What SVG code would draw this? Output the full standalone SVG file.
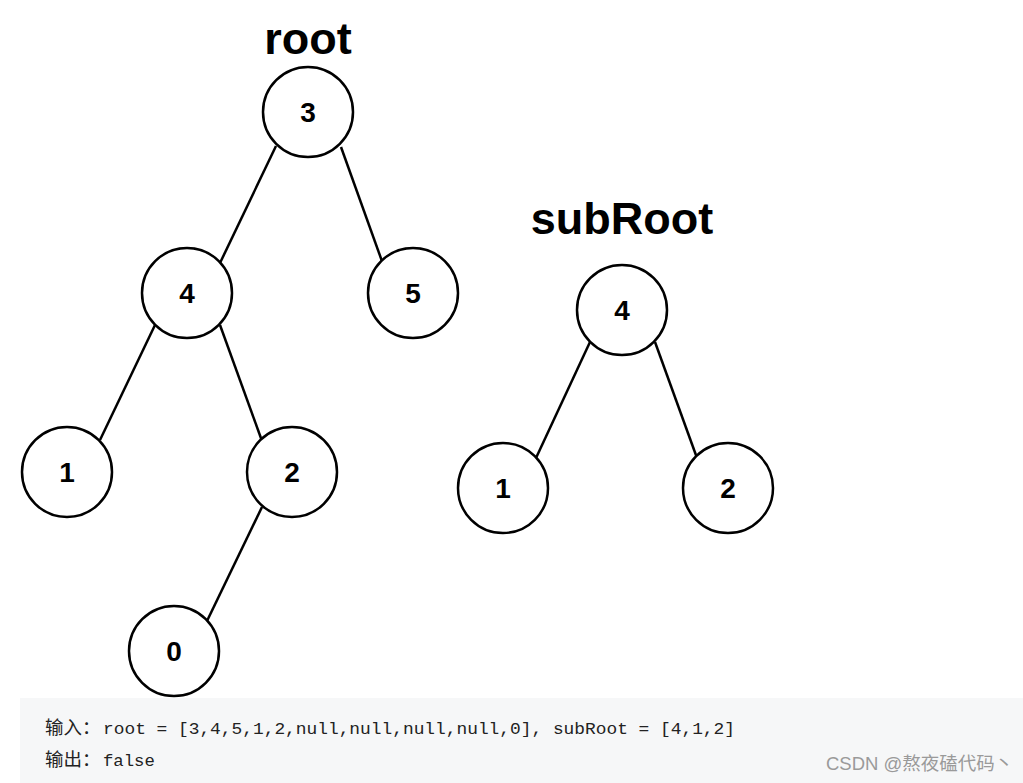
<svg xmlns="http://www.w3.org/2000/svg" width="1023" height="783" viewBox="0 0 1023 783">
<style>
.n circle{fill:#fff;stroke:#000;stroke-width:2.5}
.n text{font-family:"Liberation Sans",Arial,sans-serif;font-weight:bold;font-size:28px;text-anchor:middle;fill:#000}
.lbl{font-family:"Liberation Sans",Arial,sans-serif;font-weight:bold;font-size:45px;text-anchor:middle;fill:#000}
#edges line{stroke:#000;stroke-width:2.5}
.code{font-family:"Liberation Mono","DejaVu Sans Mono",monospace;font-size:17.3px;fill:#222}
.cjk{font-family:"Noto Sans CJK SC",sans-serif;font-size:18.5px;fill:#222}
.wm{font-family:"Liberation Sans","Noto Sans CJK SC",sans-serif;font-size:18.5px;fill:#9a9a9a}
</style>
<rect width="1023" height="783" fill="#fff"/>
<rect x="20" y="698" width="1003" height="85" fill="#f6f7f8"/>
<text class="lbl" x="308" y="54">root</text>
<text class="lbl" x="622" y="234">subRoot</text>
<g id="edges">
<line x1="276" y1="146" x2="220" y2="263"/>
<line x1="341" y1="147" x2="383" y2="264"/>
<line x1="155" y1="325" x2="100" y2="440"/>
<line x1="220" y1="325" x2="262" y2="441"/>
<line x1="262" y1="507" x2="207" y2="621"/>
<line x1="590" y1="342" x2="536" y2="458"/>
<line x1="655" y1="342" x2="697" y2="458"/>
</g>
<g id="n3" class="n"><circle cx="308" cy="112" r="45"/><text x="308" y="122">3</text></g>
<g id="n4" class="n"><circle cx="187" cy="293" r="45"/><text x="187" y="303">4</text></g>
<g id="n5" class="n"><circle cx="413" cy="293" r="45"/><text x="413" y="303">5</text></g>
<g id="n1" class="n"><circle cx="67" cy="472" r="45"/><text x="67" y="482">1</text></g>
<g id="n2" class="n"><circle cx="292" cy="472" r="45"/><text x="292" y="482">2</text></g>
<g id="n0" class="n"><circle cx="174" cy="651" r="45"/><text x="174" y="661">0</text></g>
<g id="s4" class="n"><circle cx="622" cy="310" r="45"/><text x="622" y="320">4</text></g>
<g id="s1" class="n"><circle cx="503" cy="488" r="45"/><text x="503" y="498">1</text></g>
<g id="s2" class="n"><circle cx="728" cy="488" r="45"/><text x="728" y="498">2</text></g>
<text class="cjk" x="45" y="734">输入：</text>
<text class="code" x="103" y="734" textLength="632" lengthAdjust="spacingAndGlyphs">root = [3,4,5,1,2,null,null,null,null,0], subRoot = [4,1,2]</text>
<text class="cjk" x="45" y="766">输出：</text>
<text class="code" x="103" y="766">false</text>
<text class="wm" x="826" y="770">CSDN @熬夜磕代码丶</text>
</svg>
